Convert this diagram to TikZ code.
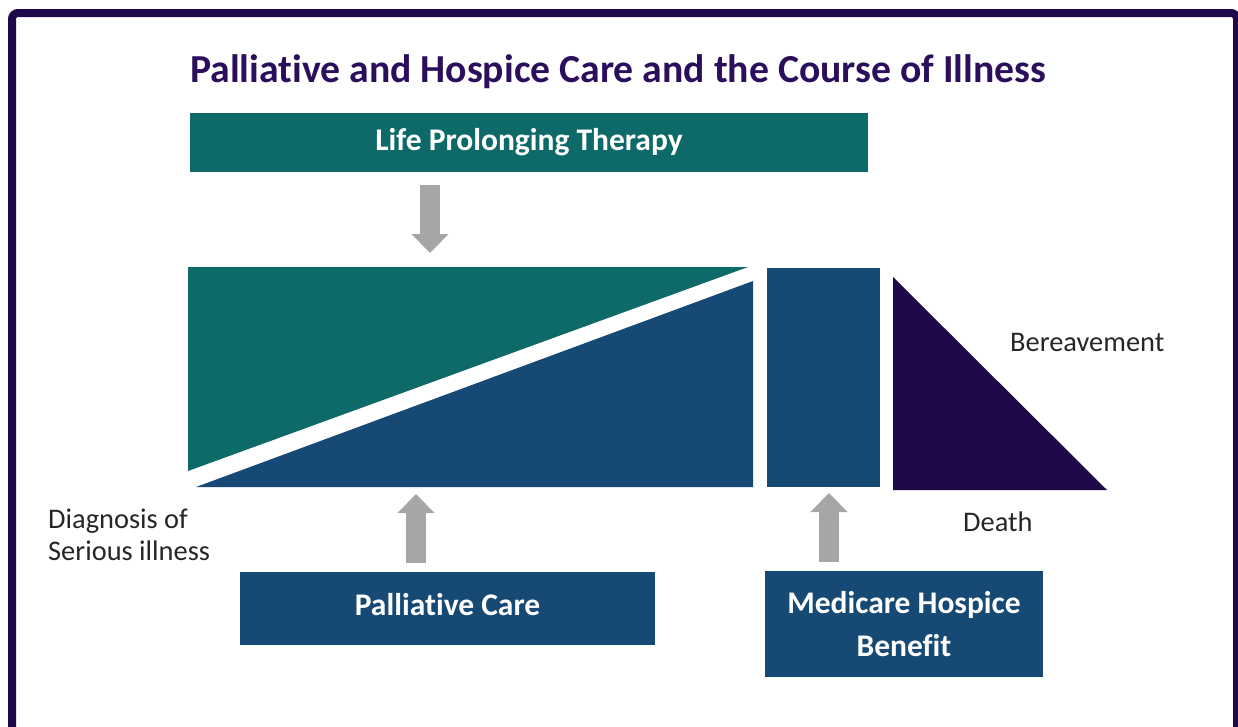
\documentclass[tikz,border=0pt]{standalone}
\usepackage{fontspec}
\setmainfont{Carlito}[Ligatures=NoCommon]
\usetikzlibrary{arrows.meta}
\definecolor{tealc}{HTML}{0E6A69}
\definecolor{bluec}{HTML}{164A74}
\definecolor{purplec}{HTML}{1E0848}
\definecolor{titlec}{HTML}{2B0F5C}
\definecolor{arrowgray}{HTML}{A6A6A6}
\definecolor{labelc}{HTML}{262626}
\tikzset{
  framebox/.style={draw=purplec, line width=8pt, rounded corners=6pt},
  tealbox/.style={fill=tealc, inner sep=0pt, text=white, font=\fontsize{31.5}{36}\selectfont\bfseries, align=center},
  bluebox/.style={fill=bluec, inner sep=0pt, text=white, font=\fontsize{31.5}{43}\selectfont\bfseries, align=center},
  garrow/.style={draw=arrowgray, line width=20pt, -{Triangle[length=19pt,width=36pt]}},
  lbl/.style={text=labelc, font=\fontsize{28.4}{32}\selectfont, inner sep=0pt},
}
\begin{document}
\begin{tikzpicture}[x=1pt,y=-1pt]
\useasboundingbox (0,0) rectangle (1238,726);
\draw[framebox] (12,13) rectangle (1237,770);
\node[text=titlec, font=\fontsize{39.7}{44}\selectfont\bfseries, inner sep=0pt] (title) at (618,72) {Palliative and Hospice Care and the Course of Illness};
\node[tealbox, minimum width=678pt, minimum height=59pt] (lpt) at (529,142.5) {Life Prolonging Therapy};
% main block
\fill[tealc] (188,267) coordinate (tl) -- (748,267) -- (188,471) -- cycle;
\fill[bluec] (196,487) -- (753,281) -- (753,487) coordinate (br) -- cycle;
\fill[bluec] (767,268) rectangle (880,487);
\fill[purplec] (893,277) -- (893,490) -- (1107,490) -- cycle;
\node[bluebox, minimum width=415pt, minimum height=73pt] (pc) at (447.5,608.5) {};
\node[bluebox, inner sep=0pt] (pct) at (447.5,605) {Palliative Care};
\node[bluebox, minimum width=278pt, minimum height=106pt] (mhb) at (904,624) {Medicare Hospice\\Benefit};
\coordinate (a1s) at (430,185);
\coordinate (a1e) at (430,253);
\coordinate (a2s) at (416,563);
\coordinate (a2e) at (416,494);
\coordinate (a3s) at (829,562);
\coordinate (a3e) at (829,493);
\draw[garrow] (a1s) -- (a1e);
\draw[garrow] (a2s) -- (a2e);
\draw[garrow] (a3s) -- (a3e);
\node[lbl, anchor=west] (ber) at (1010,342) {Bereavement};
\node[lbl, anchor=west] (death) at (963,522) {Death};
\node[lbl, anchor=west, align=left] (diag) at (48,535) {Diagnosis of\\Serious illness};
\end{tikzpicture}
\end{document}
